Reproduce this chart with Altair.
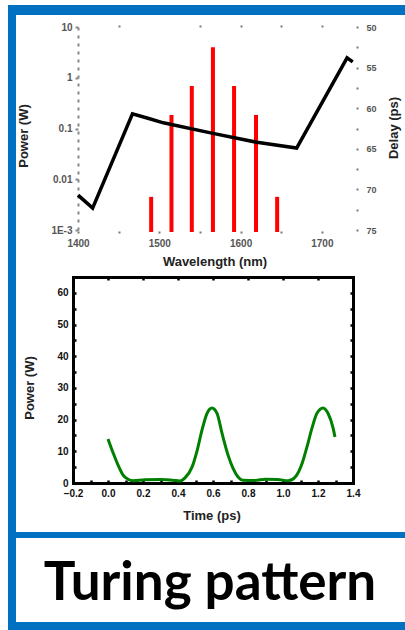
import altair as alt
import pandas as pd

# ---------------- data ----------------
# Top panel: spectral comb lines (Power, W, log) and delay curve (ps, right axis)
bar_wavelength = [1490, 1515, 1540, 1566, 1592, 1619, 1645]
bar_power = [0.0045, 0.185, 0.69, 4.0, 0.69, 0.185, 0.0045]

delay_wavelength = [1400, 1418, 1467, 1485, 1505, 1566, 1620, 1669, 1731, 1738]
delay_ps = [70.7, 72.3, 60.7, 61.2, 61.8, 63.1, 64.2, 64.9, 53.8, 54.3]

# Bottom panel: temporal power
time_ps = [0.00, 0.03, 0.057, 0.086, 0.114, 0.143, 0.21, 0.30, 0.37, 0.41, 0.44,
           0.48, 0.51, 0.537, 0.566, 0.594, 0.623, 0.651, 0.686, 0.714, 0.743,
           0.771, 0.84, 0.90, 0.97, 1.03, 1.07, 1.11, 1.137, 1.166, 1.194,
           1.229, 1.257, 1.286, 1.297]
time_power = [13.9, 9.4, 5.7, 2.5, 1.2, 0.7, 1.0, 1.1, 0.9, 0.6, 1.6,
              5.0, 10.4, 16.7, 22.0, 23.7, 22.0, 15.8, 8.8, 4.7, 1.9,
              0.9, 0.8, 1.2, 1.1, 0.7, 1.9, 6.3, 11.4, 17.4, 22.0,
              23.7, 22.0, 17.4, 14.5]

# tick values / labels
wl_ticks_bottom = [1400, 1450, 1500, 1550, 1600, 1650, 1700]
wl_ticks_top = [1450, 1550, 1600, 1650, 1700]
power_ticks = [10, 1, 0.1, 0.01, 0.001]
delay_ticks = [50, 52.5, 55, 57.5, 60, 62.5, 65, 67.5, 70, 72.5, 75]
time_ticks = [-0.2, 0.0, 0.2, 0.4, 0.6, 0.8, 1.0, 1.2, 1.4]
time_minor = [-0.2, -0.1, 0.0, 0.1, 0.2, 0.3, 0.4, 0.5, 0.6, 0.7, 0.8, 0.9,
              1.0, 1.1, 1.2, 1.3, 1.4]
tpower_ticks = [0, 10, 20, 30, 40, 50, 60]
tpower_minor = [0, 5, 10, 15, 20, 25, 30, 35, 40, 45, 50, 55, 60]

title_top_x = "Wavelength (nm)"
title_top_y = "Power (W)"
title_top_y2 = "Delay (ps)"
title_bot_x = "Time (ps)"
title_bot_y = "Power (W)"
caption = "Turing pattern"

W, H = 405, 630
AXF = "Liberation Sans"
BLUE = "#0070C0"

bars_df = pd.DataFrame({"wl": bar_wavelength, "power": bar_power})
delay_df = pd.DataFrame({"wl": delay_wavelength, "delay": delay_ps})
time_df = pd.DataFrame({"t": time_ps, "p": time_power})
one = pd.DataFrame({"k": [0]})

# scales (pixel ranges inside a single 405x630 canvas)
wl_scale = alt.Scale(domain=[1400, 1742], range=[78, 356], nice=False, zero=False)
pw_scale = alt.Scale(type="log", domain=[0.001, 10], range=[230, 27], nice=False)
dl_scale = alt.Scale(domain=[50, 75], range=[27, 230], nice=False, zero=False)
t_scale = alt.Scale(domain=[-0.2, 1.4], range=[73, 353], nice=False, zero=False)
tp_scale = alt.Scale(domain=[0, 65], range=[483, 277], nice=False, zero=False)

# ---------------- top panel ----------------
bars = alt.Chart(bars_df).mark_rule(color="#ff0000", strokeWidth=4).encode(
    x=alt.X("wl:Q", scale=wl_scale, axis=alt.Axis(
        orient="bottom", offset=-(H - 231), values=wl_ticks_bottom,
        labelExpr="datum.value % 100 == 0 ? datum.value : ''",
        domain=False, tickSize=2, tickWidth=2, tickColor="#777",
        labelFont=AXF, labelFontWeight="bold", labelFontSize=10, labelColor="#555",
        labelPadding=5, labelFlush=False, grid=False, title=None)),
    y=alt.Y("power:Q", scale=pw_scale, axis=alt.Axis(
        orient="left", offset=-78, values=power_ticks,
        labelExpr="datum.value < 0.005 ? '1E-3' : format(datum.value, '~g')",
        domainColor="#888", domainWidth=2, domainDash=[3, 5],
        tickSize=3, tickWidth=2, tickColor="#888",
        labelFont=AXF, labelFontWeight="bold", labelFontSize=10, labelColor="#555",
        labelPadding=3, labelOverlap=False, grid=False, title=None)),
    y2=alt.value(232),
)

delay = alt.Chart(delay_df).mark_line(color="black", strokeWidth=3.5).encode(
    x=alt.X("wl:Q", scale=wl_scale, axis=alt.Axis(
        orient="top", offset=-27, values=wl_ticks_top, labels=False,
        domain=False, tickSize=2, tickWidth=2, tickColor="#777",
        grid=False, title=None)),
    y=alt.Y("delay:Q", scale=dl_scale, axis=alt.Axis(
        orient="right", offset=356 - W, values=delay_ticks,
        labelExpr="datum.value % 5 == 0 ? datum.value : ''",
        domain=False, tickSize=2, tickWidth=2, tickColor="#777",
        labelFont=AXF, labelFontWeight="bold", labelFontSize=9, labelColor="#555",
        labelPadding=8, labelOverlap=False, grid=False, title=None)),
)

# ---------------- bottom panel ----------------
green = alt.Chart(time_df).mark_line(color="#008000", strokeWidth=3,
                                     interpolate="monotone").encode(
    x=alt.X("t:Q", scale=t_scale, axis=alt.Axis(
        orient="bottom", offset=483 - H, values=time_ticks, format=".1f",
        domain=True, domainColor="black", domainWidth=3, domainCap="square",
        ticks=False, labelFont=AXF, labelFontWeight="bold", labelFontSize=10,
        labelColor="#111", labelPadding=5, labelFlush=False, labelOverlap=False,
        grid=False, title=None)),
    y=alt.Y("p:Q", scale=tp_scale, axis=alt.Axis(
        orient="left", offset=-73, values=tpower_ticks,
        domain=True, domainColor="black", domainWidth=3, domainCap="square",
        ticks=False, labelFont=AXF, labelFontWeight="bold", labelFontSize=10,
        labelColor="#111", labelPadding=5, labelOverlap=False,
        grid=False, title=None)),
)

# inward ticks on bottom and left frame edges
inner1 = alt.Chart(time_df).mark_line(opacity=0).encode(
    x=alt.X("t:Q", scale=t_scale, axis=alt.Axis(
        orient="top", offset=-483, values=time_minor, labels=False, domain=False,
        tickSize=3, tickWidth=2.5, tickColor="black", grid=False, title=None)),
    y=alt.Y("p:Q", scale=tp_scale, axis=alt.Axis(
        orient="right", offset=73 - W, values=tpower_minor, labels=False,
        domain=False, tickSize=3, tickWidth=2.5, tickColor="black",
        grid=False, title=None)),
)

# top and right frame edges with inward ticks
inner2 = alt.Chart(time_df).mark_line(opacity=0).encode(
    x=alt.X("t:Q", scale=t_scale, axis=alt.Axis(
        orient="bottom", offset=277 - H, values=time_ticks, labels=False,
        domain=True, domainColor="black", domainWidth=3, domainCap="square",
        tickSize=3, tickWidth=2.5, tickColor="black", grid=False, title=None)),
    y=alt.Y("p:Q", scale=tp_scale, axis=alt.Axis(
        orient="left", offset=-353, values=tpower_minor, labels=False,
        domain=True, domainColor="black", domainWidth=3, domainCap="square",
        tickSize=3, tickWidth=2.5, tickColor="black", grid=False, title=None)),
)


# ---------------- texts ----------------
def text_layer(txt, x, y, size, angle=0, font=AXF, color="#222"):
    return alt.Chart(pd.DataFrame({"s": [txt]})).mark_text(
        font=font, fontSize=size, fontWeight="bold", angle=angle, color=color,
        align="center", baseline="middle").encode(
        text="s:N", x=alt.value(x), y=alt.value(y))


texts = [
    text_layer(title_top_x, 215, 262, 13),
    text_layer(title_top_y, 24, 136, 13, angle=270),
    text_layer(title_top_y2, 394, 128, 13, angle=270),
    text_layer(title_bot_x, 212, 516, 13),
    text_layer(title_bot_y, 30, 388, 13, angle=270),
    alt.Chart(pd.DataFrame({"s": [caption]})).mark_text(
        font="Lato", fontSize=53, fontWeight="bold", color="black",
        align="center", baseline="alphabetic").encode(
        text="s:N", x=alt.value(210), y=alt.value(600)),
]


# ---------------- blue frame ----------------
def band(x, x2, y, y2):
    return alt.Chart(one).mark_rect(color=BLUE).encode(
        x=alt.value(x), x2=alt.value(x2), y=alt.value(y), y2=alt.value(y2))


frame = [band(8, W, 5, 15), band(8, 16, 5, H), band(8, W, 532, 538),
         band(8, W, 622, H)]

chart = alt.layer(
    *frame, bars, delay, green, inner1, inner2, *texts
).resolve_scale(
    x="independent", y="independent"
).resolve_axis(
    x="independent", y="independent"
).properties(
    width=W, height=H, padding=0,
    autosize=alt.AutoSizeParams(type="none"),
    background="white",
).configure_view(stroke=None)

chart.save("out.html", embed_options={"renderer": "svg", "actions": False})
